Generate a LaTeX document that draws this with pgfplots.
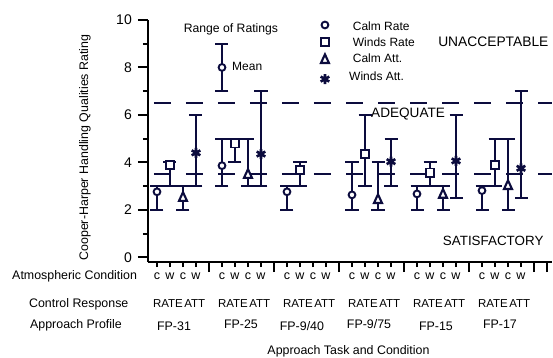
\documentclass[border=0pt]{standalone}
\usepackage{pgfplots}
\pgfplotsset{compat=1.18}
\usepackage{pgfplotstable}
\usepackage{fontspec}
\setmainfont{Liberation Sans}
\definecolor{navy}{RGB}{12,12,62}
\newcommand{\fs}[1]{\fontsize{#1bp}{#1bp}\selectfont}

\pgfplotstableread{
x y lo hi
1 2.76 2 3
6 3.86 3 5
11 2.76 2 3
16 2.63 2 4
21 2.67 2 3
26 2.81 2 3
}\calmrate
\pgfplotstableread{
x y lo hi
2 3.89 3 4
7 4.80 4 5
12 3.68 3 4
17 4.35 3 6
22 3.57 3 4
27 3.89 3 5
}\windsrate
\pgfplotstableread{
x y lo hi
3 2.50 2 3
8 3.47 3 5
18 2.41 2 4
23 2.63 2 3
28 3.00 2 5
}\calmatt
\pgfplotstableread{
x y lo hi
4 4.40 3 6
9 4.35 3 7
19 4.03 3 5
24 4.06 2.5 6
29 3.75 2.5 7
}\windsatt
\pgfplotstableread{
x y lo hi
6 8 7 9
}\example

\pgfplotsset{
  crate/.style={navy, only marks, mark=*, mark size=3.4bp, mark options={line width=1.9bp, fill=white, draw=navy}},
  wrate/.style={navy, only marks, mark=square*, mark size=4.1bp, mark options={line width=1.9bp, fill=white, draw=navy}},
  catt/.style={navy, only marks, mark=triangle*, mark size=4.6bp, mark options={line width=2.1bp, fill=white, draw=navy, yscale=1.25}},
  watt/.style={navy, only marks, mark=asterisk, mark size=5bp, mark options={line width=2.6bp, draw=navy}},
  ebars/.style={error bars/.cd, y dir=both, y explicit},
}

\begin{document}
\begin{tikzpicture}
\begin{axis}[
  at={(0bp,0bp)}, anchor=south west,
  scale only axis, width=404.2bp, height=242bp,
  xmin=0.3077, xmax=31.4, ymin=-0.2, ymax=10,
  axis x line*=bottom, axis y line*=left,
  axis line style={line width=2.4bp, black},
  tick align=outside,
  ytick={0,2,4,6,8,10},
  minor ytick={1,3,5,7,9},
  xtick={5,10,15,20,25,30,31},
  xticklabels={},
  minor xtick={1,2,3,4,6,7,8,9,11,12,13,14,16,17,18,19,21,22,23,24,26,27,28,29},
  major tick length=10bp, minor tick length=5bp,
  tick style={black, line width=2bp},
  /pgf/number format/assume math mode=true,
  yticklabel style={font=\fs{14}, inner sep=0pt, xshift=-6bp},
  clip=false,
  ylabel={Cooper-Harper Handling Qualities Rating},
  ylabel style={font=\fs{12.4}, at={(axis description cs:-0.156,0.473)}, anchor=center},
  xlabel={Approach Task and Condition},
  xlabel style={font=\fs{12.4}, at={(axis description cs:0.496,-0.384)}, anchor=base},
  error bars/error bar style={line width=2bp, navy},
  error bars/error mark options={line width=2bp, mark size=6.5bp, navy, rotate=90},
]
% boundary lines
\addplot[navy, line width=2.4bp, dash pattern=on 17bp off 15bp, dash phase=26bp]
  coordinates {(0.3077,6.5) (31.4,6.5)};
\addplot[navy, line width=2.4bp, dash pattern=on 17bp off 15bp, dash phase=26bp]
  coordinates {(0.3077,3.5) (31.4,3.5)};

% data: mean with range of ratings
\addplot[crate, ebars]
  table[x=x, y=y, y error plus expr=\thisrow{hi}-\thisrow{y}, y error minus expr=\thisrow{y}-\thisrow{lo}]{\calmrate};
\addplot[wrate, ebars]
  table[x=x, y=y, y error plus expr=\thisrow{hi}-\thisrow{y}, y error minus expr=\thisrow{y}-\thisrow{lo}]{\windsrate};
\addplot[catt, ebars]
  table[x=x, y=y, y error plus expr=\thisrow{hi}-\thisrow{y}, y error minus expr=\thisrow{y}-\thisrow{lo}]{\calmatt};
\addplot[watt, ebars]
  table[x=x, y=y, y error plus expr=\thisrow{hi}-\thisrow{y}, y error minus expr=\thisrow{y}-\thisrow{lo}]{\windsatt};
% key example
\addplot[crate, ebars]
  table[x=x, y=y, y error plus expr=\thisrow{hi}-\thisrow{y}, y error minus expr=\thisrow{y}-\thisrow{lo}]{\example};

% legend symbols
\addplot[crate] coordinates {(13.92,9.79)};
\addplot[wrate] coordinates {(13.92,9.06)};
\addplot[catt] coordinates {(13.92,8.31)};
\addplot[watt] coordinates {(13.92,7.51)};
\node[anchor=base west, font=\fs{12}, inner sep=0pt] at (axis cs:16.05,9.55) {Calm Rate};
\node[anchor=base west, font=\fs{12}, inner sep=0pt] at (axis cs:16.05,8.88) {Winds Rate};
\node[anchor=base west, font=\fs{12}, inner sep=0pt] at (axis cs:16.05,8.20) {Calm Att.};
\node[anchor=base west, font=\fs{12}, inner sep=0pt] at (axis cs:15.77,7.44) {Winds Att.};

% annotations
\node[anchor=base, font=\fs{12.2}, inner sep=0pt] at (axis cs:6.69,9.48) {Range of Ratings};
\node[anchor=base west, font=\fs{12}, inner sep=0pt] at (axis cs:6.77,7.89) {Mean};
\node[anchor=base west, font=\fs{13.8}, inner sep=0pt] at (axis cs:22.62,8.90) {UNACCEPTABLE};
\node[anchor=base west, font=\fs{13.6}, inner sep=0pt] at (axis cs:17.46,5.91) {ADEQUATE};
\node[anchor=base west, font=\fs{13.4}, inner sep=0pt] at (axis cs:22.98,0.476) {SATISFACTORY};

% category rows
\node[anchor=base west, font=\fs{12.4}, inner sep=0pt] at (axis cs:-10.15,-0.957) {Atmospheric Condition};
\node[anchor=base west, font=\fs{12.4}, inner sep=0pt] at (axis cs:-8.85,-2.107) {Control Response};
\node[anchor=base west, font=\fs{12.4}, inner sep=0pt] at (axis cs:-8.77,-2.992) {Approach Profile};

\node[anchor=base, font=\fs{12.5}, inner sep=0pt] at (axis cs:1,-0.957) {c};
\node[anchor=base, font=\fs{12.5}, inner sep=0pt] at (axis cs:2,-0.957) {w};
\node[anchor=base, font=\fs{12.5}, inner sep=0pt] at (axis cs:3,-0.957) {c};
\node[anchor=base, font=\fs{12.5}, inner sep=0pt] at (axis cs:4,-0.957) {w};
\node[anchor=base, font=\fs{12.5}, inner sep=0pt] at (axis cs:6,-0.957) {c};
\node[anchor=base, font=\fs{12.5}, inner sep=0pt] at (axis cs:7,-0.957) {w};
\node[anchor=base, font=\fs{12.5}, inner sep=0pt] at (axis cs:8,-0.957) {c};
\node[anchor=base, font=\fs{12.5}, inner sep=0pt] at (axis cs:9,-0.957) {w};
\node[anchor=base, font=\fs{12.5}, inner sep=0pt] at (axis cs:11,-0.957) {c};
\node[anchor=base, font=\fs{12.5}, inner sep=0pt] at (axis cs:12,-0.957) {w};
\node[anchor=base, font=\fs{12.5}, inner sep=0pt] at (axis cs:13,-0.957) {c};
\node[anchor=base, font=\fs{12.5}, inner sep=0pt] at (axis cs:14,-0.957) {w};
\node[anchor=base, font=\fs{12.5}, inner sep=0pt] at (axis cs:16,-0.957) {c};
\node[anchor=base, font=\fs{12.5}, inner sep=0pt] at (axis cs:17,-0.957) {w};
\node[anchor=base, font=\fs{12.5}, inner sep=0pt] at (axis cs:18,-0.957) {c};
\node[anchor=base, font=\fs{12.5}, inner sep=0pt] at (axis cs:19,-0.957) {w};
\node[anchor=base, font=\fs{12.5}, inner sep=0pt] at (axis cs:21,-0.957) {c};
\node[anchor=base, font=\fs{12.5}, inner sep=0pt] at (axis cs:22,-0.957) {w};
\node[anchor=base, font=\fs{12.5}, inner sep=0pt] at (axis cs:23,-0.957) {c};
\node[anchor=base, font=\fs{12.5}, inner sep=0pt] at (axis cs:24,-0.957) {w};
\node[anchor=base, font=\fs{12.5}, inner sep=0pt] at (axis cs:26,-0.957) {c};
\node[anchor=base, font=\fs{12.5}, inner sep=0pt] at (axis cs:27,-0.957) {w};
\node[anchor=base, font=\fs{12.5}, inner sep=0pt] at (axis cs:28,-0.957) {c};
\node[anchor=base, font=\fs{12.5}, inner sep=0pt] at (axis cs:29,-0.957) {w};

\node[anchor=base, font=\fs{11.5}, inner sep=0pt] at (axis cs:2.7,-2.107) {RATE\hspace{1.5bp}ATT};
\node[anchor=base, font=\fs{11.5}, inner sep=0pt] at (axis cs:7.7,-2.107) {RATE\hspace{1.5bp}ATT};
\node[anchor=base, font=\fs{11.5}, inner sep=0pt] at (axis cs:12.7,-2.107) {RATE\hspace{1.5bp}ATT};
\node[anchor=base, font=\fs{11.5}, inner sep=0pt] at (axis cs:17.7,-2.107) {RATE\hspace{1.5bp}ATT};
\node[anchor=base, font=\fs{11.5}, inner sep=0pt] at (axis cs:22.7,-2.107) {RATE\hspace{1.5bp}ATT};
\node[anchor=base, font=\fs{11.5}, inner sep=0pt] at (axis cs:27.7,-2.107) {RATE\hspace{1.5bp}ATT};

\node[anchor=base, font=\fs{12.4}, inner sep=0pt] at (axis cs:2.31,-3.093) {FP-31};
\node[anchor=base, font=\fs{12.4}, inner sep=0pt] at (axis cs:7.46,-2.992) {FP-25};
\node[anchor=base, font=\fs{12.4}, inner sep=0pt] at (axis cs:12.15,-3.093) {FP-9/40};
\node[anchor=base, font=\fs{12.4}, inner sep=0pt] at (axis cs:17.31,-2.992) {FP-9/75};
\node[anchor=base, font=\fs{12.4}, inner sep=0pt] at (axis cs:22.46,-3.093) {FP-15};
\node[anchor=base, font=\fs{12.4}, inner sep=0pt] at (axis cs:27.38,-2.992) {FP-17};
\end{axis}
\pgfresetboundingbox
\useasboundingbox (-148bp,-96bp) rectangle (405bp,262bp);
\end{tikzpicture}
\end{document}
